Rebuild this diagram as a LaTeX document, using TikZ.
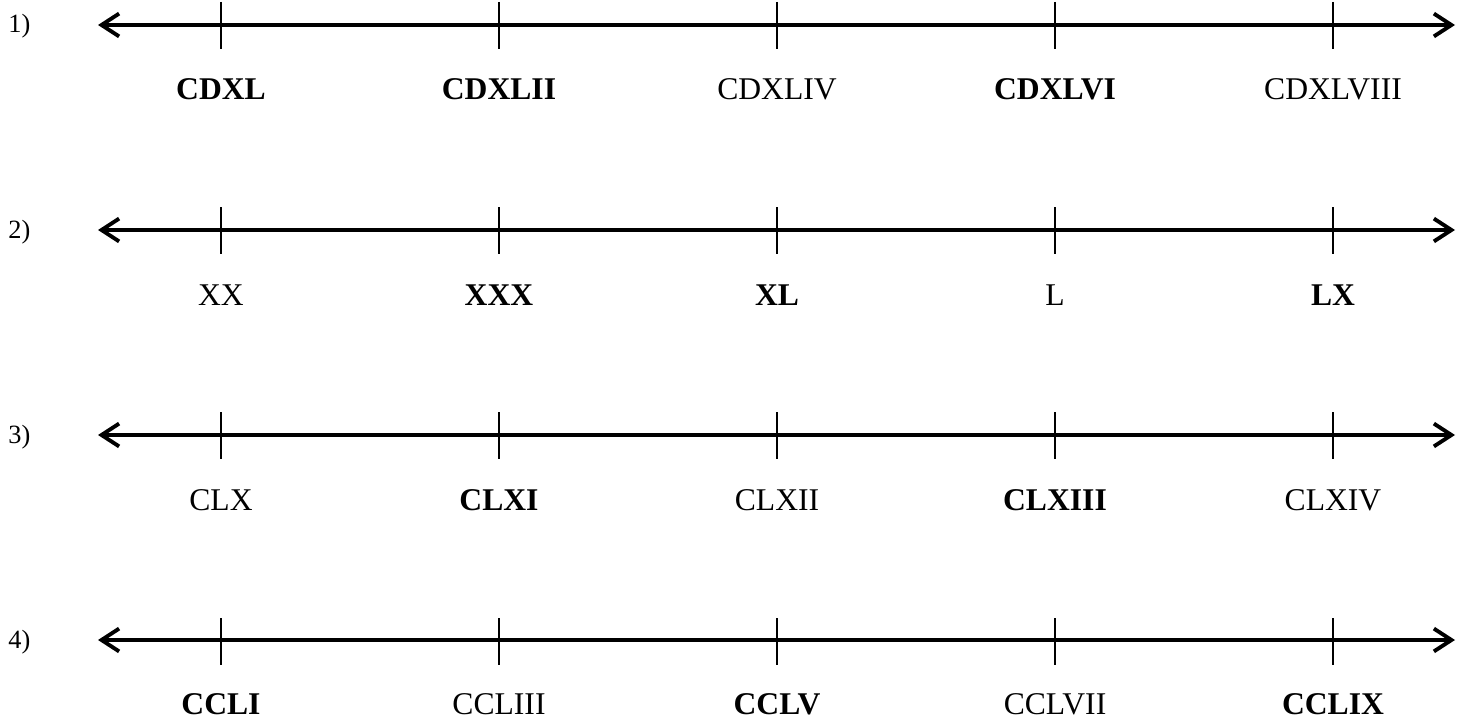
\documentclass[tikz,border=0pt]{standalone}
\usepackage{fontspec}
\setmainfont{Liberation Serif}
\usetikzlibrary{arrows.meta}

\tikzset{
  axis/.style={line width=2pt,{Straight Barb[length=10pt,width=13pt,line width=2.2pt]}-{Straight Barb[length=10pt,width=13pt,line width=2.2pt]}},
  tick/.style={line width=0.9pt},
  lab/.style={anchor=base,inner sep=0pt,font=\fontsize{18}{21}\selectfont},
  num/.style={anchor=base west,inner sep=0pt,font=\fontsize{15}{18}\selectfont}
}

\begin{document}
\begin{tikzpicture}[x=0.02cm,y=-0.02cm]
\useasboundingbox (0,0) rectangle (1468,723);

% row 1
\node[num] (n1) at (8,33) {1)};
\path 	(98,25) coordinate (l1)  (1455,25) coordinate (r1);
\draw[axis] (l1) -- (r1);
\path 	(221,2) coordinate (t1a)  (499,2) coordinate (t1b)  (777,2) coordinate (t1c)  (1055,2) coordinate (t1d)  (1333,2) coordinate (t1e)
		(221,49) coordinate (b1a) (499,49) coordinate (b1b) (777,49) coordinate (b1c) (1055,49) coordinate (b1d) (1333,49) coordinate (b1e);
\path[tick]
    (t1a) edge (b1a)
    (t1b) edge (b1b)
    (t1c) edge (b1c)
    (t1d) edge (b1d)
    (t1e) edge (b1e);
\node[lab] (c1a) at (221,100) {\textbf{CDXL}};
\node[lab] (c1b) at (499,100) {\textbf{CDXLII}};
\node[lab] (c1c) at (777,100) {CDXLIV};
\node[lab] (c1d) at (1055,100) {\textbf{CDXLVI}};
\node[lab] (c1e) at (1333,100) {CDXLVIII};

% row 2
\node[num] (n2) at (8,238) {2)};
\path 	(98,230) coordinate (l2)  (1455,230) coordinate (r2);
\draw[axis] (l2) -- (r2);
\path 	(221,207) coordinate (t2a)  (499,207) coordinate (t2b)  (777,207) coordinate (t2c)  (1055,207) coordinate (t2d)  (1333,207) coordinate (t2e)
		(221,254) coordinate (b2a) (499,254) coordinate (b2b) (777,254) coordinate (b2c) (1055,254) coordinate (b2d) (1333,254) coordinate (b2e);
\path[tick]
    (t2a) edge (b2a)
    (t2b) edge (b2b)
    (t2c) edge (b2c)
    (t2d) edge (b2d)
    (t2e) edge (b2e);
\node[lab] (c2a) at (221,305) {XX};
\node[lab] (c2b) at (499,305) {\textbf{XXX}};
\node[lab] (c2c) at (777,305) {\textbf{XL}};
\node[lab] (c2d) at (1055,305) {L};
\node[lab] (c2e) at (1333,305) {\textbf{LX}};

% row 3
\node[num] (n3) at (8,443) {3)};
\path 	(98,435) coordinate (l3)  (1455,435) coordinate (r3);
\draw[axis] (l3) -- (r3);
\path 	(221,412) coordinate (t3a)  (499,412) coordinate (t3b)  (777,412) coordinate (t3c)  (1055,412) coordinate (t3d)  (1333,412) coordinate (t3e)
		(221,459) coordinate (b3a) (499,459) coordinate (b3b) (777,459) coordinate (b3c) (1055,459) coordinate (b3d) (1333,459) coordinate (b3e);
\path[tick]
    (t3a) edge (b3a)
    (t3b) edge (b3b)
    (t3c) edge (b3c)
    (t3d) edge (b3d)
    (t3e) edge (b3e);
\node[lab] (c3a) at (221,510) {CLX};
\node[lab] (c3b) at (499,510) {\textbf{CLXI}};
\node[lab] (c3c) at (777,510) {CLXII};
\node[lab] (c3d) at (1055,510) {\textbf{CLXIII}};
\node[lab] (c3e) at (1333,510) {CLXIV};

% row 4
\node[num] (n4) at (8,648) {4)};
\path 	(98,640) coordinate (l4)  (1455,640) coordinate (r4);
\draw[axis] (l4) -- (r4);
\path 	(221,618) coordinate (t4a)  (499,618) coordinate (t4b)  (777,618) coordinate (t4c)  (1055,618) coordinate (t4d)  (1333,618) coordinate (t4e)
		(221,665) coordinate (b4a) (499,665) coordinate (b4b) (777,665) coordinate (b4c) (1055,665) coordinate (b4d) (1333,665) coordinate (b4e);
\path[tick]
    (t4a) edge (b4a)
    (t4b) edge (b4b)
    (t4c) edge (b4c)
    (t4d) edge (b4d)
    (t4e) edge (b4e);
\node[lab] (c4a) at (221,714) {\textbf{CCLI}};
\node[lab] (c4b) at (499,714) {CCLIII};
\node[lab] (c4c) at (777,714) {\textbf{CCLV}};
\node[lab] (c4d) at (1055,714) {CCLVII};
\node[lab] (c4e) at (1333,714) {\textbf{CCLIX}};
\end{tikzpicture}
\end{document}
